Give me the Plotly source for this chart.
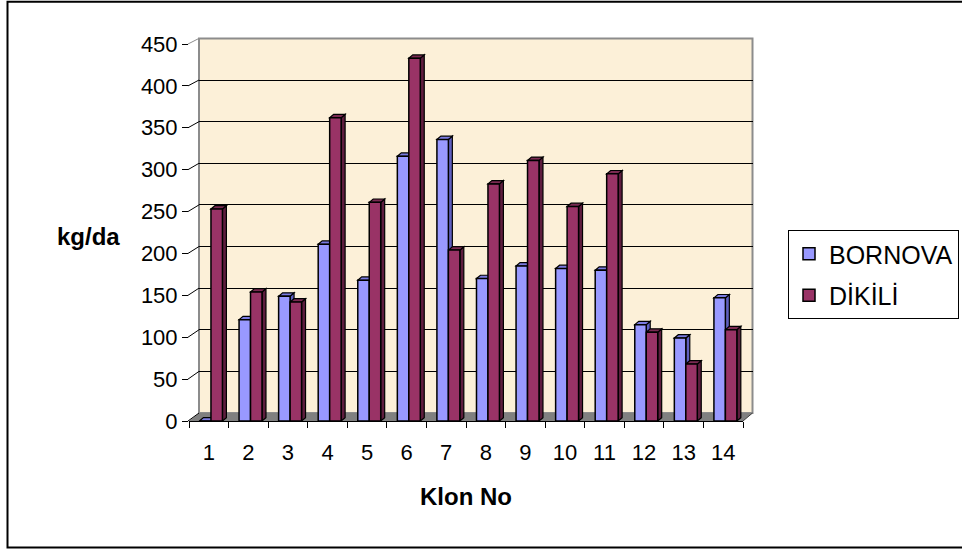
import plotly.graph_objects as go

# Yield per clone (kg/da) at the two locations
klon = list(range(1, 15))
klon_labels = [str(k) for k in klon]
bornova = [0, 121, 149, 211, 168, 316, 336, 170, 185, 182, 180, 115, 99, 147]
dikili = [253, 154, 142, 362, 261, 433, 204, 283, 311, 256, 295, 106, 68, 109]
y_ticks = list(range(0, 451, 50))

W, H = 962, 551
FONT = "Liberation Sans, Arial, sans-serif"

# pixel geometry of the pseudo-3D frame
FRONT_L, FRONT_R, FRONT_B, FRONT_T = 189, 743, 421, 44
BACK_L, BACK_R, BACK_B, BACK_T = 199, 752.5, 413, 38.4
YMAX = 450


def px(x):
    return x / W


def py(y):
    return 1 - y / H


def front_y(v):
    return FRONT_B - v * (FRONT_B - FRONT_T) / YMAX


def back_y(v):
    return BACK_B - v * (BACK_B - BACK_T) / YMAX


# bar placement within a category and the depth of the 3D faces (data units)
BAR_W = 0.29
OFF_B, OFF_D = -0.235, 0.055
DX, DY = 0.10, 4.0

series = [
    dict(name="BORNOVA", vals=bornova, off=OFF_B,
         front="#9999FF", side="#5F5FBF", top="#7A7AE0", group="a"),
    dict(name="DİKİLİ", vals=dikili, off=OFF_D,
         front="#993366", side="#5E1D3E", top="#7A2A52", group="b"),
]

fig = go.Figure()

# back wall subplot: only carries the horizontal gridlines
fig.add_trace(go.Scatter(x=[], y=[], xaxis="x", yaxis="y", showlegend=False,
                         hoverinfo="skip"))

for s in series:
    fig.add_trace(go.Bar(
        x=klon, y=s["vals"], name=s["name"], xaxis="x2", yaxis="y2",
        offset=s["off"], width=BAR_W, legendgroup=s["group"],
        marker=dict(color=s["front"], line=dict(color="black", width=1.5)),
    ))

shapes = []

# back wall fill with grey frame
shapes.append(dict(type="rect", xref="paper", yref="paper", layer="below",
                   x0=px(BACK_L), x1=px(BACK_R), y0=py(BACK_B), y1=py(BACK_T),
                   fillcolor="#FCF0D8", line=dict(color="#8C8C8C", width=2)))
# floor
shapes.append(dict(type="path", xref="paper", yref="paper", layer="below",
                   path=(f"M{px(FRONT_L)},{py(FRONT_B)} L{px(FRONT_R)},{py(FRONT_B)} "
                         f"L{px(BACK_R)},{py(BACK_B)} L{px(BACK_L)},{py(BACK_B)} Z"),
                   fillcolor="#808080", line=dict(width=0)))
shapes.append(dict(type="line", xref="paper", yref="paper", layer="below",
                   x0=px(FRONT_R), y0=py(FRONT_B), x1=px(BACK_R), y1=py(BACK_B),
                   line=dict(color="#404040", width=1)))
# side wall gridlines joining the front ticks to the back wall
for v in y_ticks:
    shapes.append(dict(type="line", xref="paper", yref="paper", layer="below",
                       x0=px(FRONT_L - 1), y0=py(front_y(v)),
                       x1=px(BACK_L), y1=py(back_y(v)),
                       line=dict(color="black" if v < YMAX else "#8C8C8C", width=1)))
# outer chart frame
shapes.append(dict(type="rect", xref="paper", yref="paper", layer="below",
                   x0=px(7.5), x1=px(965), y0=py(547.5), y1=py(1.8),
                   line=dict(color="black", width=2), fillcolor="rgba(0,0,0,0)"))

# side and top faces of every column
for i, k in enumerate(klon):
    for s in series:
        h = s["vals"][i]
        left = k + s["off"]
        right = left + BAR_W
        side = (f"M{right},0 L{right + DX},{DY} L{right + DX},{h + DY} "
                f"L{right},{h} Z")
        top = (f"M{left},{h} L{left + DX},{h + DY} L{right + DX},{h + DY} "
               f"L{right},{h} Z")
        for path, col in ((side, s["side"]), (top, s["top"])):
            shapes.append(dict(type="path", xref="x2", yref="y2", layer="between",
                               path=path, fillcolor=col,
                               line=dict(color="black", width=1.2)))

fig.update_layout(
    width=W, height=H,
    margin=dict(l=0, r=0, t=0, b=0, autoexpand=False),
    paper_bgcolor="white",
    plot_bgcolor="rgba(0,0,0,0)",
    barmode="overlay",
    font=dict(family=FONT, color="black", size=22),
    showlegend=True,
    legend=dict(
        x=px(788), y=py(230), xanchor="left", yanchor="top",
        bgcolor="white", bordercolor="black", borderwidth=1,
        font=dict(family=FONT, size=25, color="black"),
        traceorder="grouped", tracegroupgap=6,
    ),
    # back wall
    xaxis=dict(domain=[px(BACK_L), px(BACK_R)], anchor="y", range=[0, 1],
               visible=False, showgrid=False, zeroline=False),
    yaxis=dict(domain=[py(BACK_B), py(BACK_T)], anchor="x", range=[0, YMAX],
               tickvals=y_ticks[1:-1], showticklabels=False, ticks="",
               showgrid=True, gridcolor="black", gridwidth=1,
               zeroline=False, showline=False),
    # front plane carrying the columns and the axes
    xaxis2=dict(domain=[px(FRONT_L), px(FRONT_R)], anchor="y2",
                range=[0.5, 14.5], tickvals=klon, ticktext=klon_labels,
                ticks="", showgrid=False, zeroline=False,
                showline=True, linecolor="black", linewidth=1,
                ticklabelstandoff=12,
                tickfont=dict(family=FONT, size=22, color="black"),
                minor=dict(tickvals=[k - 0.5 for k in klon] + [klon[-1] + 0.5],
                           ticks="outside", ticklen=6, tickcolor="black",
                           tickwidth=1, showgrid=False)),
    yaxis2=dict(domain=[py(FRONT_B), py(FRONT_T)], anchor="x2",
                range=[0, YMAX], tickvals=y_ticks, ticks="outside", ticklen=6,
                tickcolor="black", showgrid=False, zeroline=False, showline=False,
                tickfont=dict(family=FONT, size=22, color="black")),
    shapes=shapes,
    annotations=[
        dict(text="<b>kg/da</b>", xref="paper", yref="paper", x=px(88), y=py(236),
             xanchor="center", yanchor="middle", showarrow=False,
             font=dict(family=FONT, size=24, color="black")),
        dict(text="<b>Klon No</b>", xref="paper", yref="paper", x=px(466), y=py(496),
             xanchor="center", yanchor="middle", showarrow=False,
             font=dict(family=FONT, size=24, color="black")),
    ],
)

fig.write_html("out.html")
